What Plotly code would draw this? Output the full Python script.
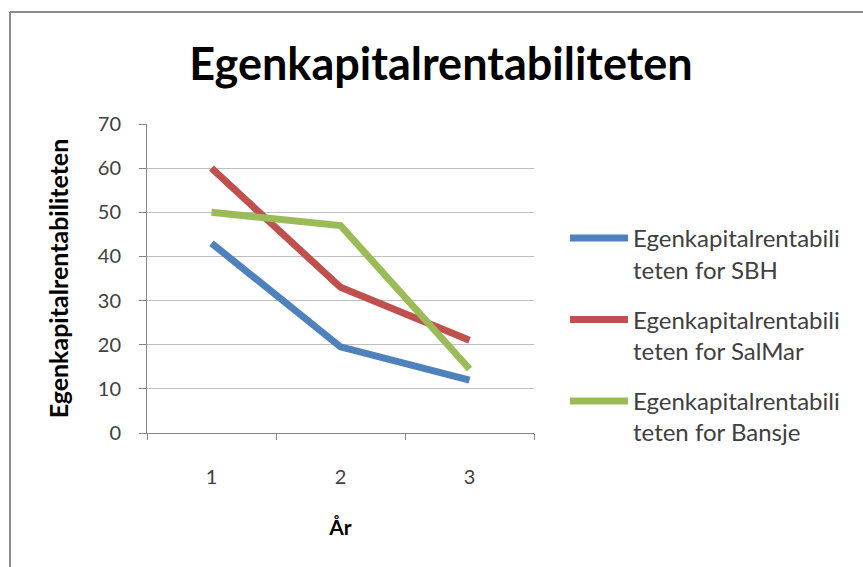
import plotly.graph_objects as go

# Return on equity per year for three companies
years = ["1", "2", "3"]
sbh = [43, 19.5, 12]
salmar = [60, 33, 21]
bansje = [50, 47, 14.5]

series_names = [
    "Egenkapitalrentabili<br>teten for SBH",
    "Egenkapitalrentabili<br>teten for SalMar",
    "Egenkapitalrentabili<br>teten for Bansje",
]
series_values = [sbh, salmar, bansje]
series_colors = ["#4F81BD", "#C0504D", "#9BBB59"]

y_ticks = [0, 10, 20, 30, 40, 50, 60, 70]

FONT = "Lato, 'Open Sans', sans-serif"

fig = go.Figure()
for i, (name, vals, col) in enumerate(zip(series_names, series_values, series_colors)):
    fig.add_trace(go.Scatter(
        x=years, y=vals, name=name, mode="lines",
        legendgroup=f"g{i}",
        line=dict(color=col, width=7),
    ))

W, H = 863, 567
ml, mr, mt, mb = 147, 329, 124, 134
pw, ph = W - ml - mr, H - mt - mb

def px_x(p):
    return (p - ml) / pw

def px_y(p):
    return (H - mb - p) / ph

fig.update_layout(
    width=W, height=H,
    margin=dict(l=ml, r=mr, t=mt, b=mb, autoexpand=False),
    paper_bgcolor="white", plot_bgcolor="white",
    font=dict(family=FONT, color="#595959"),
    title=dict(
        text="<b>Egenkapitalrentabiliteten</b>",
        font=dict(size=45, color="#000000", family=FONT),
        xref="container", x=441 / W, xanchor="center",
        yref="container", y=1 - 64 / H, yanchor="middle",
    ),
    xaxis=dict(
        type="category", range=[-0.5, 2.5],
        showline=True, linecolor="#868686", linewidth=1,
        ticks="outside", tickson="boundaries", ticklen=6, tickcolor="#868686",
        showgrid=False,
        tickfont=dict(size=20, color="#404040"),
        ticklabelstandoff=26,
        title=dict(text="<b>År</b>", font=dict(size=21, color="#000000"), standoff=33),
    ),
    yaxis=dict(
        range=[0, 70], tickvals=y_ticks,
        showline=True, linecolor="#868686", linewidth=1,
        ticks="outside", ticklen=7, tickcolor="#868686",
        showgrid=True, gridcolor="#BFBFBF", gridwidth=1,
        zeroline=False,
        tickfont=dict(size=20, color="#404040"),
        ticklabelstandoff=14,
        title=dict(text="<b>Egenkapitalrentabiliteten</b>",
                   font=dict(size=25, color="#000000"), standoff=22),
    ),
    legend=dict(
        x=px_x(565), xanchor="left",
        y=px_y(216), yanchor="top",
        font=dict(size=24, color="#404040"),
        itemwidth=58, traceorder="grouped", tracegroupgap=16, valign="top",
        bgcolor="rgba(0,0,0,0)",
    ),
    showlegend=True,
)

# Chart frame
fig.add_shape(type="line", xref="paper", yref="paper",
              x0=px_x(10), x1=px_x(10), y0=px_y(580), y1=px_y(12),
              line=dict(color="#8C8C8C", width=2))
fig.add_shape(type="line", xref="paper", yref="paper",
              x0=px_x(10), x1=px_x(880), y0=px_y(12), y1=px_y(12),
              line=dict(color="#8C8C8C", width=2))

fig.write_html("out.html")
